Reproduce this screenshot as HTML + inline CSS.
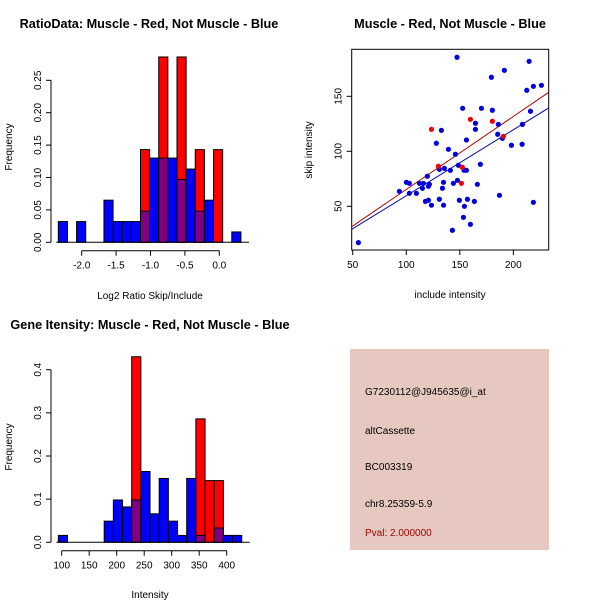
<!DOCTYPE html>
<html><head><meta charset="utf-8"><style>
body{margin:0;background:#fff;}
svg{display:block;font-family:"Liberation Sans",sans-serif;}
</style></head><body>
<svg id="chart" width="600" height="600" viewBox="0 0 600 600">
<rect width="600" height="600" fill="#fff"/>
<g id="p1"></g>
<g id="p2"></g>
<g id="p3"></g>
<g>
<rect x="350" y="349" width="199" height="201" fill="#e6c8c0"/>
<text x="365" y="395" font-size="10">G7230112@J945635@i_at</text>
<text x="365" y="434" font-size="10">altCassette</text>
<text x="365" y="470" font-size="10">BC003319</text>
<text x="365" y="507" font-size="10">chr8.25359-5.9</text>
<text x="365" y="536" font-size="10" fill="#a00000">Pval: 2.000000</text>
</g>
</svg>
<script>
// ---- Ratio histogram data ----
const ratioBinStart = -2.34;
const ratioBinWidth = 0.1327;
const ratioBlue = [0.032,0,0.032,0,0,0.065,0.032,0.032,0.032,0.048,0.13,0.13,0.13,0.097,0.113,0.048,0.065,0,0,0.016];
const ratioRed  = [0,0,0,0,0,0,0,0,0,0.143,0,0.286,0,0.286,0,0.143,0,0.143,0,0];
const ratioXTicks = [-2.0,-1.5,-1.0,-0.5,0.0];
const ratioXLabels = ["-2.0","-1.5","-1.0","-0.5","0.0"];
const ratioYTicks = [0,0.05,0.10,0.15,0.20,0.25];
const ratioYLabels = ["0.00","0.05","0.10","0.15","0.20","0.25"];
// ---- Intensity histogram data ----
const intBinStart = 93.9;
const intBinWidth = 16.67;
const intBlue = [0.016,0,0,0,0,0.049,0.098,0.082,0.098,0.164,0.066,0.148,0.049,0.016,0.148,0.016,0,0.033,0.016,0.016];
const intRed  = [0,0,0,0,0,0,0,0,0.43,0,0,0,0,0,0,0.286,0.143,0.143,0,0];
const intXTicks = [100,150,200,250,300,350,400];
const intYTicks = [0,0.1,0.2,0.3,0.4];
const intYLabels = ["0.0","0.1","0.2","0.3","0.4"];
// ---- Scatter data ----
const blueX = [147.4,214.7,191.6,179.5,218.7,226.2,212.5,152.7,180.4,170.2,164.6,186,164.6,216,208.5,132.8,185.4,189.8,156.2,128.1,198.2,208.2,139.4,145.9,148.7,169.2,130.9,135.6,141.2,154,156.2,119.7,100.1,102.9,112.3,116,121.6,120.7,115.1,133.8,134.8,147.8,144,166.4,93.6,102.9,109.5,187,130.9,157.1,149.6,117.9,120.7,163.6,218.7,123.5,134.8,154.3,153.4,159.9,143.1,55.3];
const blueY = [185.5,181.8,173.6,167.3,159.1,160,155.5,139.1,137.3,139.1,125.5,124.5,120,136.4,124.5,119.1,115.5,111.8,110.3,107.3,105.5,106.4,101.8,97.3,87.3,88.2,83.6,84.5,82.7,82.7,82.7,77.3,71.8,70.9,70.9,70.9,70,68.2,66.4,66.4,71.8,73.6,70.9,70,63.6,61.8,61.8,60,56.4,56.4,55.5,54.5,55.5,54.5,53.6,51,51,50,40,33.6,28.2,17];
const redX = [123.5,159.9,180.4,190.7,130,152.4,151.5];
const redY = [120,129.1,127.3,113.6,86.4,85.5,70.9];
const fitRed = [-1.1,0.664];   // intercept, slope
const fitBlue = [-0.4,0.6];
const scatXTicks = [50,100,150,200];
const scatYTicks = [50,100,150];

const NS="http://www.w3.org/2000/svg";
function mk(parent,tag,attrs,txt){const e=document.createElementNS(NS,tag);for(const k in attrs)e.setAttribute(k,attrs[k]);if(txt!=null)e.textContent=txt;parent.appendChild(e);return e;}

function hist(g,o){
  const sx=v=>o.x0+(v-o.xv0)*o.kx, sy=v=>o.y0-v*o.ky;
  for(let i=0;i<o.blue.length;i++){
    const a=o.start+i*o.w,b=a+o.w,x1=sx(a),x2=sx(b);
    const bl=o.blue[i],rd=o.red[i];
    if(rd>0){const r=mk(g,'rect',{x:x1,y:sy(rd),width:x2-x1,height:sy(0)-sy(rd),fill:'#ff0000',stroke:'#000','stroke-width':1});
      
      }
    if(bl>0){const col=rd>0?'#800080':'#0000ff';const h=rd>0?Math.min(bl,rd):bl;
      const r=mk(g,'rect',{x:x1,y:sy(h),width:x2-x1,height:sy(0)-sy(h),fill:col,stroke:'#000','stroke-width':1});
      
      }
  }
  const ya=mk(g,'line',{x1:o.yAxX,x2:o.yAxX,y1:sy(o.yt[0]),y2:sy(o.yt[o.yt.length-1]),stroke:'#000'});
  
  
  o.yt.forEach((v,i)=>{mk(g,'line',{x1:o.yAxX-5,x2:o.yAxX,y1:sy(v),y2:sy(v),stroke:'#000'});
    const t=mk(g,'text',{x:0,y:0,'font-size':10,'text-anchor':'middle',transform:`translate(${o.yAxX-10},${sy(v)}) rotate(-90)`},o.yl[i]);
    
    });
  const xa=mk(g,'line',{x1:sx(o.xt[0]),x2:sx(o.xt[o.xt.length-1]),y1:o.xAxY,y2:o.xAxY,stroke:'#000'});
  
  
  o.xt.forEach((v,i)=>{mk(g,'line',{x1:sx(v),x2:sx(v),y1:o.xAxY,y2:o.xAxY+5,stroke:'#000'});
    const t=mk(g,'text',{x:sx(v),y:o.xAxY+18,'font-size':10,'text-anchor':'middle'},o.xl[i]);
    
    });
  const base=mk(g,'line',{x1:sx(o.start)-2,x2:sx(o.start+o.w*o.blue.length)+8,y1:sy(0),y2:sy(0),stroke:'#000','stroke-width':1});
  
  
}

const p1=document.getElementById('p1');
hist(p1,{x0:219.3,xv0:0,kx:68.8,y0:242.3,ky:648,start:ratioBinStart,w:ratioBinWidth,blue:ratioBlue,red:ratioRed,xt:ratioXTicks,xl:ratioXLabels,yt:ratioYTicks,yl:ratioYLabels,yAxX:51,xAxY:250.7});
let t;
t=mk(p1,'text',{x:149,y:28,'font-size':12.7,'font-weight':'bold','text-anchor':'middle'},'RatioData: Muscle - Red, Not Muscle - Blue');


t=mk(p1,'text',{x:150,y:299,'font-size':10,'text-anchor':'middle'},'Log2 Ratio Skip/Include');


t=mk(p1,'text',{x:0,y:0,'font-size':10,'text-anchor':'middle',transform:'translate(12,147) rotate(-90)'},'Frequency');



const p3=document.getElementById('p3');
hist(p3,{x0:61.7,xv0:100,kx:0.55,y0:542.3,ky:431.5,start:intBinStart,w:intBinWidth,blue:intBlue,red:intRed,xt:intXTicks,xl:intXTicks.map(String),yt:intYTicks,yl:intYLabels,yAxX:51,xAxY:550.7});
t=mk(p3,'text',{x:150,y:329,'font-size':12.7,'font-weight':'bold','text-anchor':'middle'},'Gene Itensity: Muscle - Red, Not Muscle - Blue');


t=mk(p3,'text',{x:150,y:598,'font-size':10,'text-anchor':'middle'},'Intensity');


t=mk(p3,'text',{x:0,y:0,'font-size':10,'text-anchor':'middle',transform:'translate(12,447) rotate(-90)'},'Frequency');



const p2=document.getElementById('p2');
const L=351.7,R=548.7,T=49.3,B=250;
const px=v=>352.7+(v-50)*1.071, py=v=>261.3-v*1.1;
let e=mk(p2,'rect',{x:L,y:T,width:R-L,height:B-T,fill:'none',stroke:'#000'});


scatXTicks.forEach(v=>{mk(p2,'line',{x1:px(v),x2:px(v),y1:B,y2:B+5,stroke:'#000'});
  const tt=mk(p2,'text',{x:px(v),y:B+18,'font-size':10,'text-anchor':'middle'},String(v));
  
  });
scatYTicks.forEach(v=>{mk(p2,'line',{x1:L-5,x2:L,y1:py(v),y2:py(v),stroke:'#000'});
  const tt=mk(p2,'text',{x:0,y:0,'font-size':10,'text-anchor':'middle',transform:`translate(${L-10},${py(v)}) rotate(-90)`},String(v));
  
  });
const clip=mk(p2,'clipPath',{id:'sc'});mk(clip,'rect',{x:L,y:T,width:R-L,height:B-T});
const xa0=(L-352.7)/1.071+50, xa1=(R-352.7)/1.071+50;
[[fitRed,'#b00000','red-fit-line'],[fitBlue,'#0000b0','blue-fit-line']].forEach(([f,c,n])=>{
  const ln=mk(p2,'line',{x1:px(xa0),y1:py(f[0]+f[1]*xa0),x2:px(xa1),y2:py(f[0]+f[1]*xa1),stroke:c,'stroke-width':1,'clip-path':'url(#sc)'});
  
  });
blueX.forEach((v,i)=>{const c=mk(p2,'circle',{cx:px(v),cy:py(blueY[i]),r:2.6,fill:'#0000dd'});
  
  });
redX.forEach((v,i)=>{const c=mk(p2,'circle',{cx:px(v),cy:py(redY[i]),r:2.6,fill:'#ee0000'});
  
  });
t=mk(p2,'text',{x:450,y:28,'font-size':12.7,'font-weight':'bold','text-anchor':'middle'},'Muscle - Red, Not Muscle - Blue');


t=mk(p2,'text',{x:450,y:298,'font-size':10,'text-anchor':'middle'},'include intensity');


t=mk(p2,'text',{x:0,y:0,'font-size':10,'text-anchor':'middle',transform:'translate(312,150) rotate(-90)'},'skip intensity');


</script>
</body></html>
